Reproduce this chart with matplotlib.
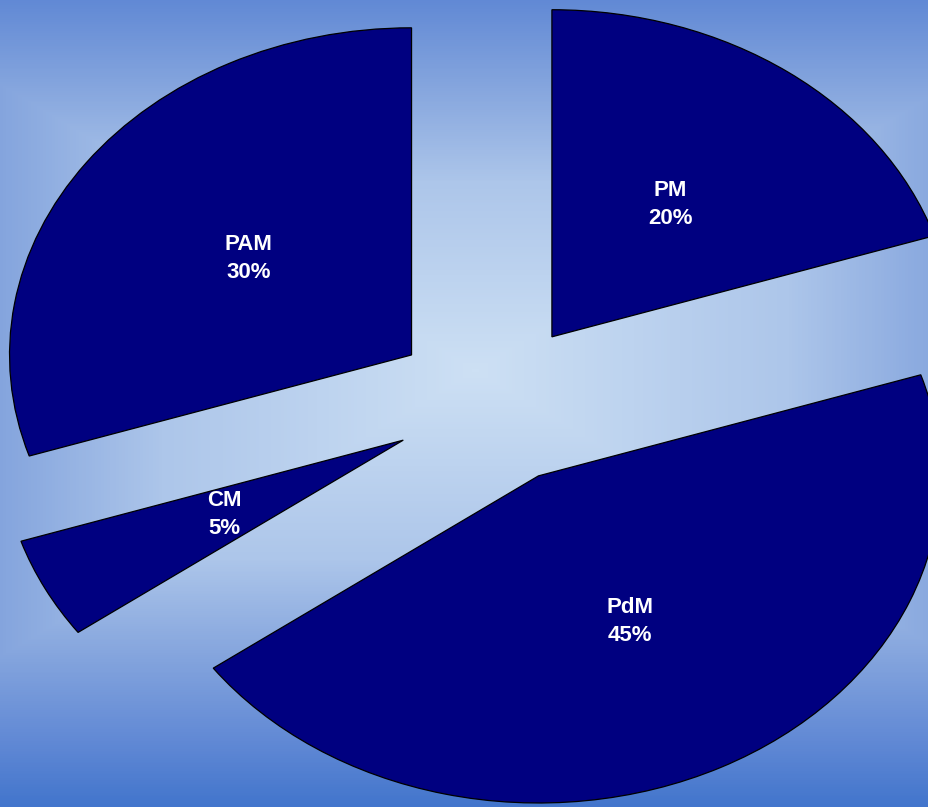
import numpy as np
import matplotlib
matplotlib.use("Agg")
import matplotlib.pyplot as plt
from matplotlib.colors import LinearSegmentedColormap

# ── data ─────────────────────────────────────────────────────────────────────
names  = ["PM", "PdM", "CM", "PAM"]
values = [20, 45, 5, 30]

# ── figure ───────────────────────────────────────────────────────────────────
W, H = 929, 807
fig = plt.figure(figsize=(W / 100, H / 100), dpi=100)
ax = fig.add_axes([0, 0, 1, 1])

# rectangular radial gradient background
yy, xx = np.mgrid[0:H, 0:W]
t = np.maximum(np.abs(xx - 475) / 780.0, np.abs(yy - 370) / 470.0)
t = np.clip(t, 0, 1)
bg_cmap = LinearSegmentedColormap.from_list(
    "bg",
    [(0.0, "#cde0f4"), (0.4, "#adc6ea"), (0.6, "#86a6de"),
     (0.79, "#6189d5"), (0.93, "#4275cc"), (1.0, "#3a6ec8")],
)
ax.imshow(t, cmap=bg_cmap, vmin=0, vmax=1, extent=(0, 1, 0, 1),
          transform=ax.transAxes, aspect="auto", zorder=0,
          interpolation="bilinear")

lbl_iter = iter(names)
wedges, _, autotexts = ax.pie(
    values,
    explode=[0.25] * len(values),
    startangle=90,
    counterclock=False,
    radius=1.0,
    colors=["#000080"] * len(values),
    wedgeprops=dict(edgecolor="black", linewidth=0.9),
    autopct=lambda p: f"{next(lbl_iter)}\n{p:.0f}%",
    pctdistance=0.5,
    textprops=dict(color="white", fontsize=16, fontweight="bold",
                   family=["Liberation Sans", "DejaVu Sans"],
                   linespacing=1.45),
)
for w in wedges:
    w.set_zorder(2)
for txt in autotexts:
    txt.set_zorder(3)

ax.set_aspect("auto")
ax.set_xlim(-1.226, 1.085)
ax.set_ylim(-1.235, 1.232)
ax.axis("off")

fig.savefig("out.png", dpi=100)
plt.close(fig)
